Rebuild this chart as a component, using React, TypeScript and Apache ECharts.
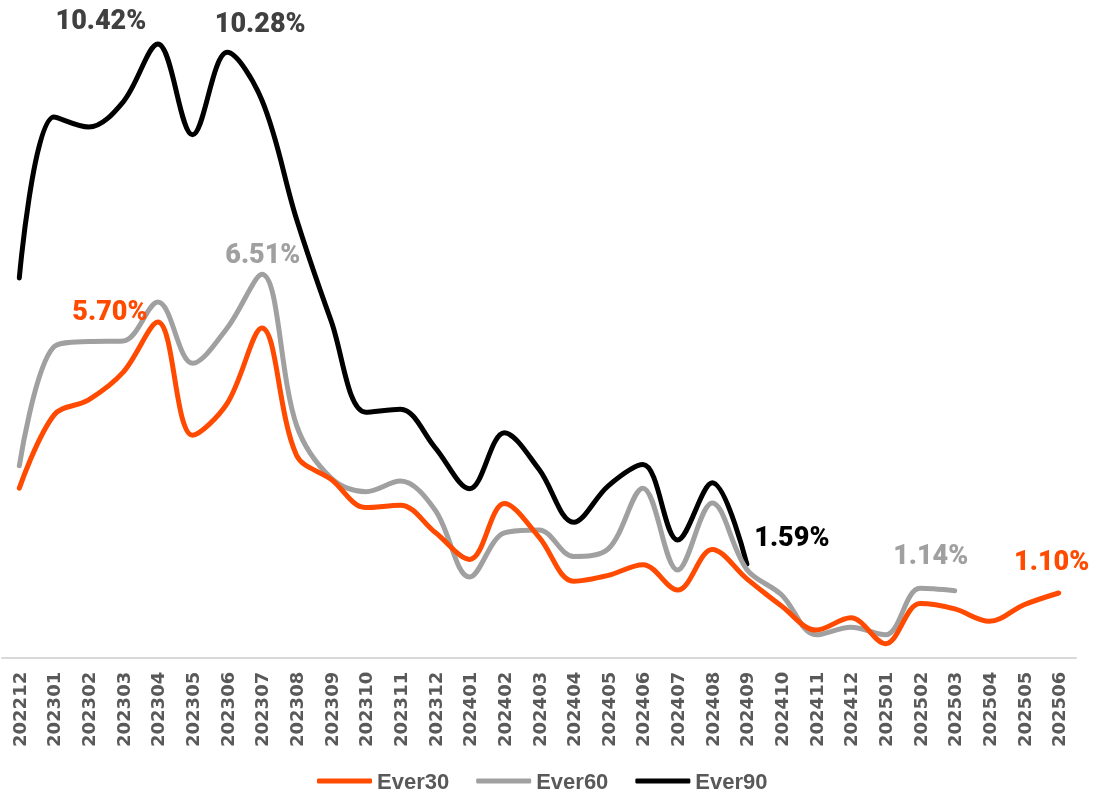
import React, { useEffect, useRef } from "react";
import * as echarts from "echarts";

const categories = [
  "202212", "202301", "202302", "202303", "202304", "202305", "202306", "202307",
  "202308", "202309", "202310", "202311", "202312", "202401", "202402", "202403",
  "202404", "202405", "202406", "202407", "202408", "202409", "202410", "202411",
  "202412", "202501", "202502", "202503", "202504", "202505", "202506",
];

const ever30 = [
  2.88, 4.12, 4.38, 4.85, 5.70, 3.78, 4.32, 5.60, 3.44, 3.03, 2.55, 2.59, 2.13, 1.67,
  2.62, 2.05, 1.30, 1.40, 1.58, 1.15, 1.84, 1.34, 0.88, 0.47, 0.68, 0.24, 0.92, 0.83,
  0.62, 0.90, 1.10,
];

const ever60 = [
  3.26, 5.28, 5.37, 5.38, 6.04, 5.00, 5.60, 6.51, 3.95, 3.05, 2.82, 3.00, 2.51, 1.37,
  2.12, 2.17, 1.72, 1.85, 2.88, 1.49, 2.63, 1.50, 1.07, 0.39, 0.52, 0.39, 1.18, 1.14,
];

const ever90 = [
  6.45, 9.18, 9.01, 9.44, 10.42, 8.88, 10.28, 9.47, 7.45, 5.72, 4.17, 4.22, 3.57, 2.87,
  3.82, 3.20, 2.30, 2.92, 3.28, 2.00, 2.97, 1.59,
];

const seriesNames = ["Ever30", "Ever60", "Ever90"];
const colors = ["#FF4A00", "#A0A0A0", "#000000"];

// labelled points: [seriesIndex, dataIndex, color, offsetX, offsetY]
const labelSpecs: [number, number, string, number, number][] = [
  [2, 4, "#404040", -57, -24],
  [2, 6, "#404040", 33, -29],
  [1, 7, "#A0A0A0", 1, -20],
  [0, 4, "#FF4A00", -48, -11],
  [2, 21, "#000000", 45, -27],
  [1, 27, "#A0A0A0", -24, -36],
  [0, 30, "#FF4A00", -7, -32],
];

function buildData(values: number[], si: number) {
  return values.map((v, i) => {
    const spec = labelSpecs.find((s) => s[0] === si && s[1] === i);
    if (!spec) return v;
    return {
      value: v,
      label: {
        show: true,
        position: "inside",
        offset: [spec[3], spec[4]],
        formatter: v.toFixed(2) + "%",
        color: spec[2],
        fontFamily: "Roboto",
        fontWeight: 900,
        fontSize: 27,
      },
    };
  });
}

export default function App() {
  const ref = useRef<HTMLDivElement>(null);
  useEffect(() => {
    if (!ref.current) return;
    const chart = echarts.init(ref.current, null, { renderer: "svg" });
    const allValues = [ever30, ever60, ever90];
    chart.setOption({
      animation: false,
      grid: { left: 2, right: 18, top: 9.9, bottom: 143.2, containLabel: false },
      legend: {
        left: 317,
        top: 770,
        padding: 0,
        itemWidth: 55,
        itemHeight: 5,
        itemGap: 27,
        icon: "roundRect",
        textStyle: {
          color: "#595959",
          fontFamily: "Liberation Sans",
          fontWeight: "bold",
          fontSize: 22,
          lineHeight: 22,
        },
        data: seriesNames.map((n, i) => ({ name: n, itemStyle: { color: colors[i] } })),
      },
      xAxis: {
        type: "category",
        data: categories,
        boundaryGap: true,
        axisLine: { show: true, lineStyle: { color: "#D9D9D9", width: 2 } },
        axisTick: { show: false },
        axisLabel: {
          rotate: 90,
          margin: 14,
          interval: 0,
          color: "#595959",
          fontFamily: "DejaVu Sans",
          fontWeight: "bold",
          fontSize: 18,
        },
      },
      yAxis: {
        type: "value",
        min: 0,
        max: 11,
        show: false,
        splitLine: { show: false },
      },
      series: seriesNames.map((n, si) => ({
        name: n,
        type: "line",
        smooth: 0.35,
        symbol: "circle",
        symbolSize: 0,
        showSymbol: true,
        color: colors[si],
        lineStyle: { color: colors[si], width: 5, cap: "round", join: "round" },
        itemStyle: { color: colors[si] },
        label: { show: false },
        emphasis: { disabled: true },
        data: buildData(allValues[si], si),
        z: 3 - si,
      })),
    });
    return () => chart.dispose();
  }, []);
  return (
    <div
      ref={ref}
      style={{ position: "fixed", left: 0, top: 0, width: 1094, height: 801 }}
    />
  );
}
